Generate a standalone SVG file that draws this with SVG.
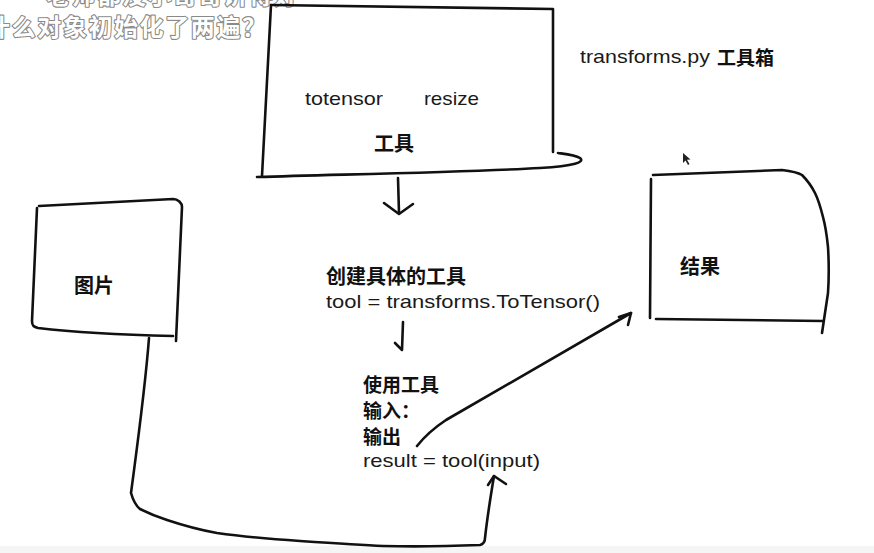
<svg xmlns="http://www.w3.org/2000/svg" width="874" height="553" viewBox="0 0 874 553">
<style>
.ln{fill:none;stroke:#111;stroke-width:2.6;stroke-linecap:round;stroke-linejoin:round}
.hw{font-family:"Liberation Sans","DejaVu Sans",sans-serif;font-size:19px;fill:#1a1a1a}
.cj{font-family:"Noto Sans CJK SC",sans-serif;font-weight:bold;font-size:19px;fill:#111}
.sub{font-family:"Noto Sans CJK SC",sans-serif;font-weight:bold;font-size:24px;fill:#fff;stroke:#8a8a8a;stroke-width:2.2;paint-order:stroke;stroke-linejoin:round}
</style>
<rect width="874" height="553" fill="#fff"/>
<rect x="0" y="546" width="874" height="7" fill="#f5f5f5"/>

<g id="subtitle">
<text class="sub" x="46" y="4" textLength="252">老师都没小哥哥讲得好</text>
<text class="sub" x="-14" y="36" textLength="280">什么对象初始化了两遍？</text>
</g>

<g id="node-toolbox">
<path class="ln" d="M271,5 L553,9 L553,152"/>
<path class="ln" d="M271,5 L262,176"/>
<path class="ln" d="M257,177 C360,174 470,172 540,168 C575,166 585,162 580,158 C575,155 565,154 558,153"/>
<text class="hw" x="305" y="105" textLength="78" lengthAdjust="spacingAndGlyphs">totensor</text>
<text class="hw" x="424" y="105" textLength="55" lengthAdjust="spacingAndGlyphs">resize</text>
<text class="cj" x="374" y="151" style="font-size:20px">工具</text>
</g>

<g id="label-transforms">
<text class="hw" x="580" y="63" textLength="130" lengthAdjust="spacingAndGlyphs">transforms.py</text>
<text class="cj" x="717" y="65">工具箱</text>
</g>

<g id="node-image">
<path class="ln" d="M39,206 L173,199 C178,199 182,203 182,207 L176,341"/>
<path class="ln" d="M37,208 L32,321 C32,326 34,327 38,328 C80,333 130,335 173,336"/>
<text class="cj" x="74" y="293" style="font-size:20px">图片</text>
</g>

<g id="node-result">
<path class="ln" d="M653,175 L782,170 C790,171 797,172 802,175 C808,181 812,187 815,193 C819,201 821,209 823,217 C826,228 827,237 828,247 C829,263 829,278 828,293 L822,333"/>
<path class="ln" d="M651,179 L650,318"/>
<path class="ln" d="M656,319 L823,321"/>
<text class="cj" x="680" y="274" style="font-size:20px">结果</text>
</g>

<g id="text-create">
<text class="cj" x="326" y="284" style="font-size:20px">创建具体的工具</text>
<text class="hw" x="326" y="308" textLength="274" lengthAdjust="spacingAndGlyphs">tool = transforms.ToTensor()</text>
</g>

<g id="text-use">
<text class="cj" x="363" y="392">使用工具</text>
<text class="cj" x="363" y="418">输入：</text>
<text class="cj" x="363" y="444">输出</text>
<text class="hw" x="363" y="467" textLength="177" lengthAdjust="spacingAndGlyphs">result = tool(input)</text>
</g>

<g id="cursor">
<path d="M683,153 L683,163 L685.5,160.5 L688,165 L689.5,164 L687,159.8 L690.5,159.5 Z" fill="#222"/>
</g>

<g id="connectors">
<path class="ln" d="M398,178 L399,213"/>
<path class="ln" d="M384,203 L399,214 L413,204"/>
<path class="ln" d="M403,322 L402,350 L395,343"/>
<path class="ln" d="M417,446 Q428,432 446,420 L631,313"/>
<path class="ln" d="M619,317 L631,313 L628,325"/>
<path class="ln" d="M149,338 C145,390 138,440 131,493 C133,500 135,505 140,509 C150,514 158,517 167,520 C185,526 200,530 217,533 C245,537 270,539 300,541 C330,543 360,545 383,546 C420,547 455,546 480,545 C484,544 485,542 485,538 C487,520 490,500 494,476"/>
<path class="ln" d="M488,485 L494,476 L506,484"/>
</g>
</svg>
